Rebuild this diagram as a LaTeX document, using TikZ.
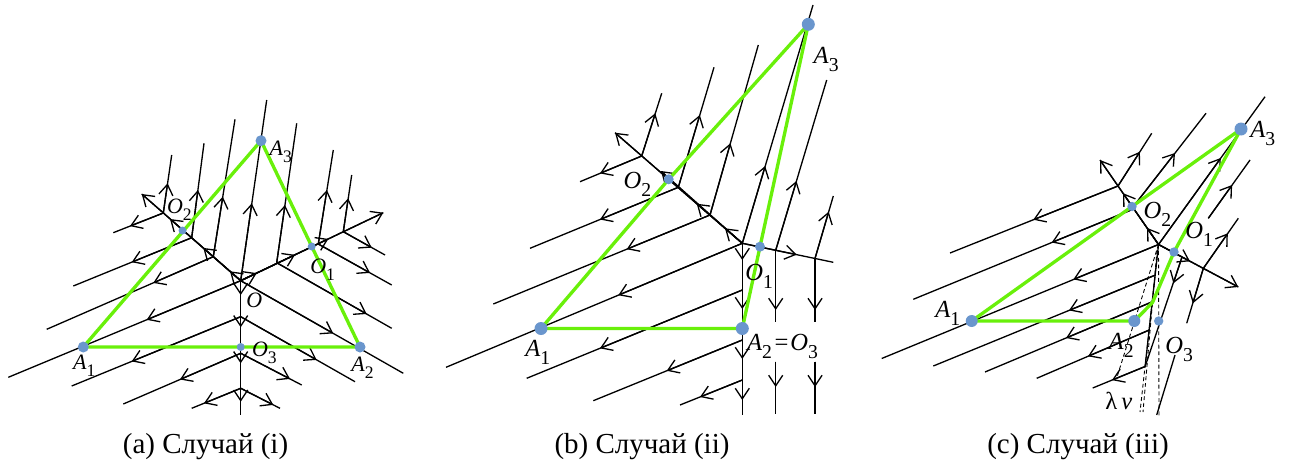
\documentclass[tikz,border=0pt]{standalone}
\usepackage{graphicx}
\usepackage{fontspec}
\setmainfont{Liberation Serif}
\usetikzlibrary{arrows.meta}
\definecolor{grn}{RGB}{105,240,10}
\definecolor{dotc}{RGB}{106,150,205}
\newcommand{\lb}[2]{\textit{#1}\raisebox{-0.33em}{\scalebox{0.8}{#2}}}
\tikzset{
  fl/.style={line width=0.75pt},
  ah/.style={line width=0.75pt,-{Straight Barb[length=6pt,width=8pt]}},
  gline/.style={line width=1.9pt, draw=grn, line join=round, line cap=round},
  dl/.style={line width=0.5pt, dash pattern=on 2.2pt off 1.6pt},
  lab/.style={anchor=base west, inner sep=0pt},
  la/.style={lab, font=\fontsize{12.5}{14}\selectfont},
  lbc/.style={lab, font=\fontsize{14}{16}\selectfont},
  capt/.style={anchor=base, inner sep=0pt, font=\fontsize{16.5}{20}\selectfont},
  bigdot/.style={fill=dotc},
}
\newcommand{\fl}[2]{\draw[fl] #1 -- #2;}
\newcommand{\fa}[3]{\draw[fl] #1 -- #2; \foreach \m in {#3} {\draw[ah] #1 -- \m;}}
\begin{document}
\begin{tikzpicture}[x=0.02cm,y=-0.02cm]
\useasboundingbox (0,0) rectangle (1294,470);
% ================= Panel (a) =================
\fa{(240.7,280.7)}{(141.7,194)}{(230,271.3),(203.3,247.9),(170,219)}
\draw[ah] (240.7,280.7) -- (141.7,194);
\fa{(240.7,280.7)}{(383.3,212.7)}{(256.7,273.1),(295,254.8),(328.3,238.9)}
\draw[ah] (240.7,280.7) -- (383.3,212.7);
\fa{(240.7,280.7)}{(240.7,415)}{(240.7,295),(240.7,327.3),(240.7,363.3),(240.7,401.7)}
% up lines
\fa{(163.3,213)}{(171.7,155)}{(167.6,183.3)}
\fa{(191.7,237.7)}{(204,143.3)}{(197.9,190)}
\fa{(213.3,256.7)}{(235,119.3)}{(222.8,196.7)}
\fa{(240.7,280.7)}{(266.7,100)}{(251.8,203.3)}
\fa{(276.7,262.7)}{(296.7,123.3)}{(285,205)}
\fa{(318.3,244)}{(333.3,150)}{(326.9,190)}
\fa{(343.3,231.7)}{(351.7,175)}{(348.2,198.3)}
% left-down lines
\fa{(163.3,213)}{(113.3,232.7)}{(130,226.1)}
\fa{(191.7,237.7)}{(73.3,286)}{(131.7,262.2)}
\fa{(213.3,256.7)}{(46.7,329.3)}{(153.3,282.9)}
\fa{(240.7,280.7)}{(8.3,377.3)}{(146.7,319.8)}
\fa{(240.7,316.7)}{(71.7,386)}{(131.7,361.4)}
\fa{(240.7,353.3)}{(123.3,404)}{(180,379.5)}
\fa{(240.7,388.3)}{(191.7,408.3)}{(204,403.3)}
% right-down lines
\fa{(240.7,280.7)}{(403.3,373.3)}{(333.3,333.4)}
\fa{(276.7,262.7)}{(391.7,328.3)}{(366.7,314)}
\fa{(318.3,244)}{(391.7,285)}{(370,272.9)}
\fa{(343.3,231.7)}{(385,255)}{(371.7,247.6)}
\fa{(240.7,316.7)}{(355,381.7)}{(316.7,359.9)}
\fa{(240.7,353.3)}{(301.7,385)}{(290,378.9)}
\fa{(240.7,388.3)}{(280,408.3)}{(273.3,404.9)}
% green
\draw[gline] (83.3,347) -- (360,347) -- (261,140.7) -- cycle;
\fill[bigdot] (83.3,347) circle[radius=5.5];
\fill[bigdot] (360,347) circle[radius=5.5];
\fill[bigdot] (261,140.7) circle[radius=5.5];
\fill[bigdot] (182.5,230.5) circle[radius=4];
\fill[bigdot] (311.7,246.5) circle[radius=4];
\fill[bigdot] (240.7,347) circle[radius=4];
\node[la] at (269.3,155) {\lb{A}{3}};
\node[la] at (166.7,213.3) {\lb{O}{2}};
\node[la] at (310,273.3) {\lb{O}{1}};
\node[la] at (246,307.3) {\textit{O}};
\node[la] at (251.7,356.7) {\lb{O}{3}};
\node[la] at (72.7,369.3) {\lb{A}{1}};
\node[la] at (351,371) {\lb{A}{2}};
% ================= Panel (b) =================
\fa{(742.3,243.3)}{(615,132.7)}{(725,228.3),(696.7,203.7),(661,171)}
\draw[ah] (742.3,243.3) -- (615,132.7);
\fa{(742.3,243.3)}{(833.3,262.3)}{(796.7,254.7)}
\fa{(742.3,243.3)}{(742.3,415)}{(742.3,260),(742.3,309),(742.3,359),(742.3,400)}
\fa{(775.7,250.3)}{(775.7,321.7)}{(775.7,310)}
\fa{(775.7,361.7)}{(775.7,414)}{(775.7,387)}
\fa{(815,258.5)}{(815,321.7)}{(815,310)}
\fa{(815,361.7)}{(815,414)}{(815,387)}
% up lines
\fa{(641.7,156)}{(661.7,93.3)}{(655.3,113.3)}
\fa{(678.3,187.3)}{(714,67.3)}{(699.8,115)}
\fa{(710,215)}{(758.3,45)}{(730.4,143.3)}
\fa{(742.3,243.3)}{(813,5)}{(765.2,166)}
\fa{(775.7,250.3)}{(826.7,80)}{(796.5,181)}
\fa{(815,258.5)}{(833.3,196)}{(828.7,211.7)}
% left-down lines
\fa{(641.7,156)}{(580,181.7)}{(600,173.4)}
\fa{(678.3,187.3)}{(530,248.3)}{(600,219.5)}
\fa{(710,215)}{(493.3,304)}{(626.7,249.2)}
\fa{(742.3,243.3)}{(446,367.3)}{(618.3,295.2)}
\fa{(742.3,290)}{(526.7,378.3)}{(600,348.3)}
\fa{(742.3,340)}{(593.3,400.7)}{(666.7,370.8)}
\fa{(742.3,380)}{(680,405)}{(700,397)}
% green
\draw[gline] (541,328.5) -- (742.3,328.5) -- (760,246.7) -- (808.3,24.3) -- (668.7,179.3) -- cycle;
\fill[bigdot] (541,328.5) circle[radius=6.5];
\fill[bigdot] (742.3,328.5) circle[radius=6.5];
\fill[bigdot] (808.3,24.3) circle[radius=6.5];
\fill[bigdot] (760,246.7) circle[radius=5];
\fill[bigdot] (668.7,179.3) circle[radius=5];
\node[lbc] at (813.3,63.3) {\lb{A}{3}};
\node[lbc] at (623.3,188.3) {\lb{O}{2}};
\node[lbc] at (745,280) {\lb{O}{1}};
\node[lbc] at (525,356) {\lb{A}{1}};
\node[lbc] at (746.7,350) {\lb{A}{2}\hspace{1.5pt}=\hspace{1pt}\lb{O}{3}};
% ================= Panel (c) =================
\fa{(1158.5,244.5)}{(1100,160)}{(1147,227.9),(1123,193.2)}
\draw[ah] (1158.5,244.5) -- (1100,160);
\fa{(1158.5,244.5)}{(1238.3,287)}{(1190,261.3)}
\draw[ah] (1158.5,244.5) -- (1238.3,287);
\fl{(1158.5,244.5)}{(1145.1,366.5)}
\fa{(1182,257)}{(1145.1,366.5)}{(1173.4,283.3)}
\fa{(1203.3,268.4)}{(1186.7,323.3)}{(1192.8,303.3)}
\fl{(1175,355)}{(1156.7,415)}
% up-right lines
\fa{(1118,186)}{(1151.7,133.3)}{(1139.9,151.7)}
\fa{(1133,207)}{(1206,113.3)}{(1175,153)}
\fa{(1158.5,244.5)}{(1265,96.7)}{(1220.8,158)}
\fa{(1208.3,218.3)}{(1250,160)}{(1232.1,185)}
\fa{(1203.3,268.4)}{(1238.3,218.3)}{(1227.8,233.3)}
% left-down lines
\fa{(1118,186)}{(950,253)}{(1033.3,219.7)}
\fa{(1133.5,209)}{(913.3,299.3)}{(1051.7,242.5)}
\fa{(1158.5,244.5)}{(881.7,358.5)}{(1073.3,279.4)}
\fa{(1155.5,275)}{(933.3,366)}{(1069,310.4)}
\fa{(1152.5,301.7)}{(985,372)}{(1066,338)}
\fa{(1149.3,330)}{(1036.7,378.3)}{(1088,356.3)}
\fa{(1145.1,366.5)}{(1092.7,388)}{(1112,380.1)}
% dashed
\draw[dl] (1158.5,244.5) -- (1116.7,378);
\draw[dl] (1158.5,244.5) -- (1140,412);
\draw[dl] (1157,250) -- (1143,412);
\draw[dl] (1158.5,244.5) -- (1159,417);
% green
\draw[gline] (971.7,321) -- (1134.3,321) -- (1152.5,302.5) -- (1174,252) -- (1241,129) -- (1132,206.5) -- cycle;
\fill[bigdot] (971.7,321) circle[radius=6];
\fill[bigdot] (1134.3,321) circle[radius=6];
\fill[bigdot] (1241,129) circle[radius=6.5];
\fill[bigdot] (1174,252) circle[radius=4.7];
\fill[bigdot] (1132,206.5) circle[radius=4.7];
\fill[bigdot] (1158.7,321) circle[radius=4.7];
\node[lbc] at (1250,137.3) {\lb{A}{3}};
\node[lbc] at (1143.3,218.3) {\lb{O}{2}};
\node[lbc] at (1185,238.3) {\lb{O}{1}};
\node[lbc] at (935,317.7) {\lb{A}{1}};
\node[lbc] at (1108.3,349.3) {\lb{A}{2}};
\node[lbc] at (1165,353.3) {\lb{O}{3}};
\node[lbc] at (1105,409) {λ\,\textit{ν}};
% captions
\node[capt] at (205.5,453) {(a) Случай (i)};
\node[capt] at (642,453) {(b) Случай (ii)};
\node[capt] at (1078,453) {(c) Случай (iii)};
\end{tikzpicture}
\end{document}
